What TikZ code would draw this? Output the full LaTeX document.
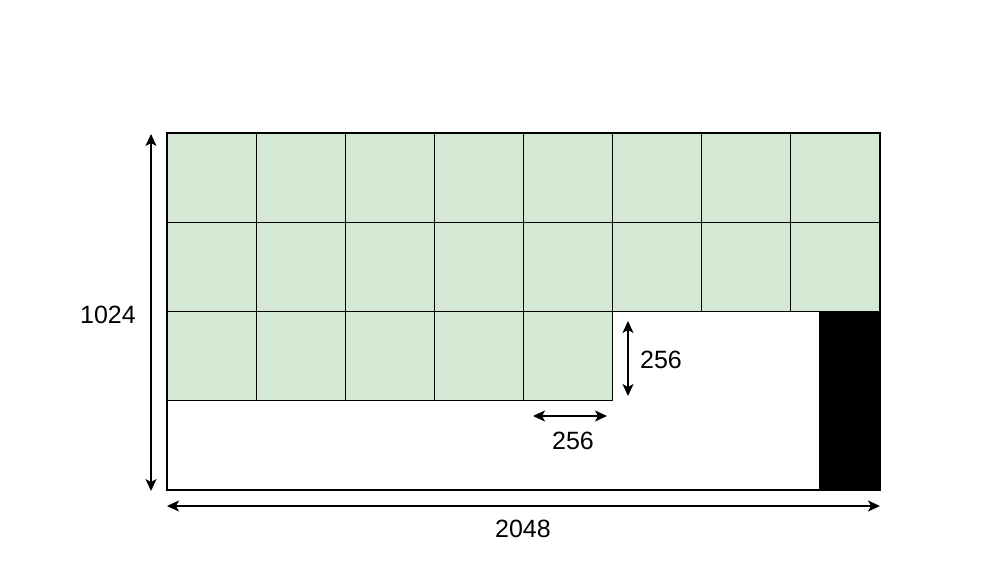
\documentclass[tikz,border=0pt]{standalone}
\usepackage{fontspec}
\setmainfont{Liberation Sans}
\usetikzlibrary{arrows.meta}
\definecolor{cellgreen}{HTML}{D5E8D4}
\begin{document}
\begin{tikzpicture}[x=1pt,y=-1pt,
  cell/.style={draw=black,fill=cellgreen,line width=1.2pt,minimum width=89.125pt,minimum height=89.25pt,inner sep=0pt,outer sep=0pt,anchor=north west},
  dimarrow/.style={line width=1.3pt,{Stealth[length=12pt,width=11pt,inset=3pt]}-{Stealth[length=12pt,width=11pt,inset=3pt]}},
  lbl/.style={font=\fontsize{25}{30}\selectfont,inner sep=0pt}]
\useasboundingbox (0,0) rectangle (999,583);
% outer frame
\node[draw=black,line width=1.2pt,fill=white,minimum width=713pt,minimum height=357pt,inner sep=0pt,outer sep=0pt,anchor=north west] (frame) at (167,133) {};
% black bar
\node[draw=black,fill=black,line width=1.2pt,minimum width=60pt,minimum height=178pt,inner sep=0pt,outer sep=0pt,anchor=north west] (bar) at (820,312) {};
% cells
\foreach \c in {0,...,7}{
  \node[cell] (r0c\c) at ({167+89.125*\c},133) {};
  \node[cell] (r1c\c) at ({167+89.125*\c},222.25) {};
}
\foreach \c in {0,...,4}{
  \node[cell] (r2c\c) at ({167+89.125*\c},311.5) {};
}
% dimension coordinates
\coordinate (vtop) at (151,134);
\coordinate (vbot) at (151,491);
\coordinate (hleft) at (167,506);
\coordinate (hright) at (880,506);
\coordinate (sv1) at (628,321);
\coordinate (sv2) at (628,396);
\coordinate (sh1) at (533,416);
\coordinate (sh2) at (607,416);
\draw[dimarrow] (vtop) -- (vbot);
\draw[dimarrow] (hleft) -- (hright);
\draw[dimarrow] (sv1) -- (sv2);
\draw[dimarrow] (sh1) -- (sh2);
\node[lbl] (l1024) at (108,315) {1024};
\node[lbl] (l2048) at (523,529) {2048};
\node[lbl] (l256a) at (661,360) {256};
\node[lbl] (l256b) at (573,441) {256};
\end{tikzpicture}
\end{document}
